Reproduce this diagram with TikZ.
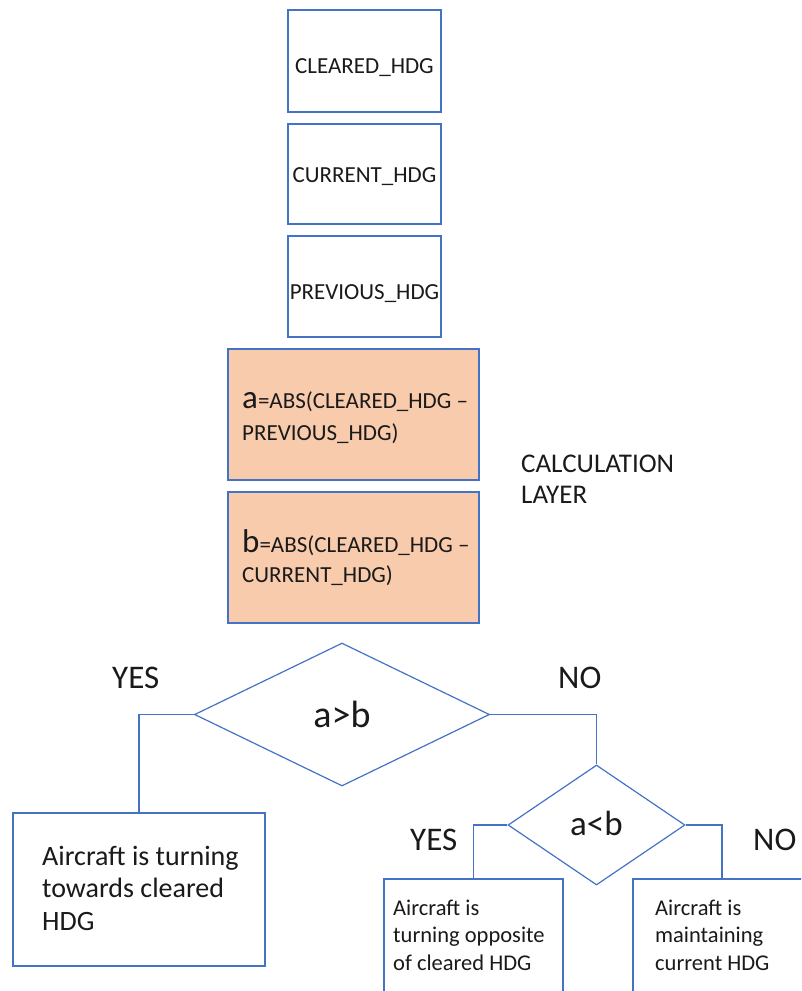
\documentclass[tikz,border=0pt]{standalone}
\usepackage{fontspec}
\setmainfont{Carlito}
\usetikzlibrary{shapes.geometric}
\definecolor{lineblue}{HTML}{4472C4}
\definecolor{calcfill}{HTML}{F8CBAD}
\definecolor{ink}{HTML}{1A1A1A}
\newcommand{\fs}[2]{\fontsize{#1}{#2}\selectfont}
% baseline of a heading set a given distance below the box centre
\newcommand{\drop}[2]{\raisebox{-#1}[0pt][0pt]{#2}}
\begin{document}
\begin{tikzpicture}[x=1pt,y=-1pt,
  every node/.style={text=ink},
  hdgbox/.style={draw=lineblue, line width=1.2pt, fill=white, minimum width=153pt, inner sep=0pt, font=\fs{23}{28}},
  calcbox/.style={draw=lineblue, line width=1.2pt, fill=calcfill, minimum width=251pt, minimum height=131pt, inner sep=0pt},
  resbox/.style={draw=lineblue, line width=1.2pt, fill=white, inner sep=0pt},
  decision/.style={diamond, draw=lineblue, line width=1.2pt, inner sep=0pt},
  link/.style={draw=lineblue, line width=1.2pt},
  txt/.style={inner sep=0pt, anchor=base west},
  lbl/.style={inner sep=0pt, anchor=base west, font=\fs{33}{38}},
]
\useasboundingbox (0,0) rectangle (801,991);
\clip (0,0) rectangle (801,991);

% input headings
\node[hdgbox, minimum height=102pt] (cleared) at (364.5,61) {\drop{12pt}{CLEARED\_HDG}};
\node[hdgbox, minimum height=100pt] (current) at (364.5,174) {\drop{8pt}{CURRENT\_HDG}};
\node[hdgbox, minimum height=101pt] (previous) at (364.5,286.5) {\drop{13pt}{PREVIOUS\_HDG}};

% calculation layer
\node[calcbox] (calca) at (353.5,414.5) {};
\node[calcbox] (calcb) at (353.5,557.5) {};
\node[txt] (calcatext) at (242,408) {\parbox[t]{240pt}{\fs{23}{32}{\fs{33}{32}a}=ABS(CLEARED\_HDG –\\PREVIOUS\_HDG)}};
\node[txt] (calcbtext) at (242,552) {\parbox[t]{240pt}{\fs{23}{30}{\fs{33}{32}b}=ABS(CLEARED\_HDG –\\CURRENT\_HDG)}};
\node[txt] (layer) at (521,472) {\parbox[t]{200pt}{\fs{27}{31}CALCULATION\\LAYER}};

% decisions
\node[decision, minimum width=295pt, minimum height=143pt, font=\fs{38}{42}] (d1) at (342,714.5) {a>b};
\node[decision, minimum width=177pt, minimum height=120pt, font=\fs{35}{40}] (d2) at (596.5,825) {\raisebox{3pt}{a<b}};

% outcomes
\node[resbox, minimum width=252pt, minimum height=153pt] (leftbox) at (139,889.5) {};
\node[resbox, minimum width=179pt, minimum height=140pt] (midbox) at (473.5,949) {};
\node[resbox, minimum width=178pt, minimum height=140pt] (rightbox) at (722,949) {};
\node[txt] (lefttext) at (42,865) {\parbox[t]{220pt}{\raggedright\fs{28}{32.5}Aircraft is turning\\towards cleared\\HDG}};
\node[txt] (midtext) at (393,915) {\parbox[t]{170pt}{\raggedright\fs{22.5}{27.5}Aircraft is\\turning opposite\\of cleared HDG}};
\node[txt] (righttext) at (655,915) {\parbox[t]{170pt}{\raggedright\fs{22.5}{27.5}Aircraft is\\maintaining\\current HDG}};

% branch labels
\node[lbl] (yes1) at (112,688) {YES};
\node[lbl] (no1) at (558,688) {NO};
\node[lbl] (yes2) at (410,850) {YES};
\node[lbl] (no2) at (753,850) {NO};

% connectors
\draw[link] (d1.west) -| (leftbox.north);
\draw[link] (d1.east) -| (d2.north);
\draw[link] (d2.west) -| (midbox.north);
\draw[link] (d2.east) -| (rightbox.north);
\end{tikzpicture}
\end{document}
